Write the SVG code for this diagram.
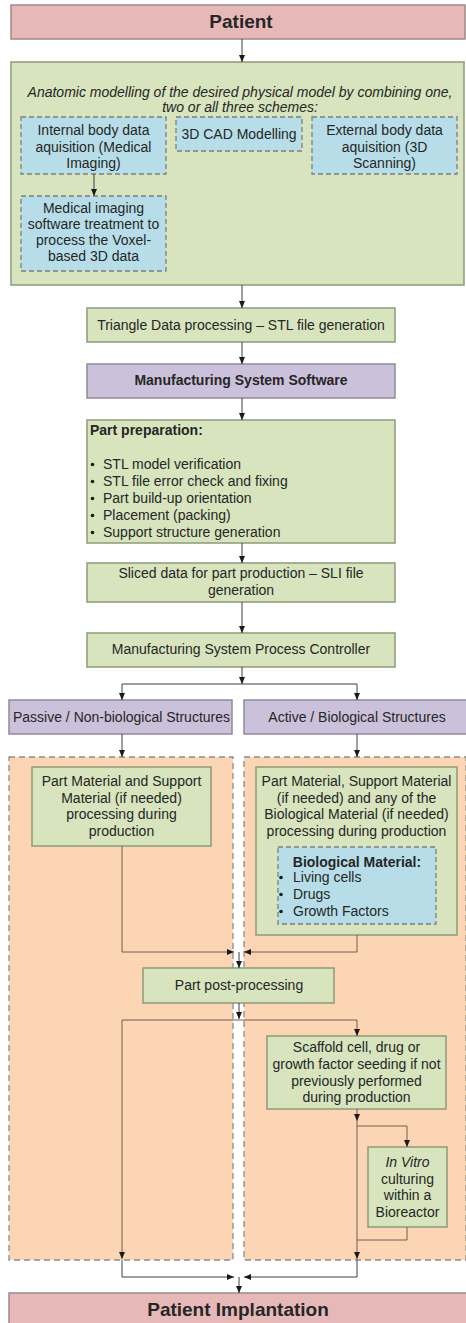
<svg xmlns="http://www.w3.org/2000/svg" width="466" height="1323" viewBox="0 0 466 1323">
<style>
.pk{fill:#E6B9B8;stroke:#9C8B8A;stroke-width:1.5}
.gr{fill:#D7E4BD;stroke:#8D9B78;stroke-width:1.5}
.pu{fill:#CCC1DA;stroke:#8F8A99;stroke-width:1.5}
.bl{fill:#B7DEE8;stroke:#7F7F7F;stroke-width:1.3;stroke-dasharray:5 3}
.or{fill:#FCD5B5;stroke:#8C8C8C;stroke-width:1.3;stroke-dasharray:6 4}
text{font-family:"Liberation Sans",Arial,sans-serif;font-size:14px;fill:#262626}
.c{text-anchor:middle}
.b{font-weight:bold}
.i{font-style:italic}
.big{font-size:19px;font-weight:bold}
.ln{fill:none;stroke:#3F3F3F;stroke-width:1}
.lb{fill:none;stroke:#6E5F56;stroke-width:1}
</style>
<defs>
<marker id="ah" viewBox="0 0 7 6" refX="7" refY="3" markerWidth="7" markerHeight="6" orient="auto" markerUnits="userSpaceOnUse">
<path d="M0,0 L7,3 L0,6 z" fill="#1a1a1a"/>
</marker>
</defs>

<g id="containers">
<rect id="passive-area" class="or" x="9" y="757" width="224" height="503"/>
<rect id="active-area" class="or" x="244" y="757" width="222" height="503"/>
</g>

<g id="patient"><rect class="pk" x="11" y="5" width="454" height="34"/><text class="c big" x="241" y="28">Patient</text></g>

<g id="modelling">
<rect class="gr" x="11" y="62" width="453" height="223"/>
<text class="c i" x="240" y="97">Anatomic modelling of the desired physical model by combining one,</text>
<text class="c i" x="240" y="112">two or all three schemes:</text>
</g>
<g id="internal"><rect class="bl" x="21" y="117" width="145" height="57"/>
<text class="c" x="93.5" y="135">Internal body data</text><text class="c" x="93.5" y="151.5">aquisition (Medical</text><text class="c" x="93.5" y="168">Imaging)</text></g>
<g id="cad"><rect class="bl" x="176" y="117" width="126" height="34"/><text class="c" x="239" y="139">3D CAD Modelling</text></g>
<g id="external"><rect class="bl" x="312" y="117" width="145" height="57"/>
<text class="c" x="384.5" y="135">External body data</text><text class="c" x="384.5" y="151.5">aquisition (3D</text><text class="c" x="384.5" y="168">Scanning)</text></g>
<g id="imaging-sw"><rect class="bl" x="21" y="196" width="145" height="75"/>
<text class="c" x="93.5" y="213">Medical imaging</text><text class="c" x="93.5" y="229">software treatment to</text><text class="c" x="93.5" y="245">process the Voxel-</text><text class="c" x="93.5" y="261">based 3D data</text></g>

<g id="triangle"><rect class="gr" x="87" y="308" width="308" height="34"/><text class="c" x="241" y="330">Triangle Data processing – STL file generation</text></g>
<g id="mss"><rect class="pu" x="87" y="364" width="308" height="34"/><text class="c b" x="241" y="385">Manufacturing System Software</text></g>
<g id="part-prep"><rect class="gr" x="87" y="420" width="308" height="123"/>
<text class="b" x="90" y="435">Part preparation:</text>
<circle cx="92.5" cy="464.5" r="1.8" fill="#1a1a1a"/><text x="103" y="469">STL model verification</text>
<circle cx="92.5" cy="481.5" r="1.8" fill="#1a1a1a"/><text x="103" y="486">STL file error check and fixing</text>
<circle cx="92.5" cy="498.5" r="1.8" fill="#1a1a1a"/><text x="103" y="503">Part build-up orientation</text>
<circle cx="92.5" cy="515.5" r="1.8" fill="#1a1a1a"/><text x="103" y="520">Placement (packing)</text>
<circle cx="92.5" cy="532.5" r="1.8" fill="#1a1a1a"/><text x="103" y="537">Support structure generation</text>
</g>
<g id="sliced"><rect class="gr" x="87" y="563" width="308" height="39"/>
<text class="c" x="241" y="578">Sliced data for part production – SLI file</text><text class="c" x="241" y="595">generation</text></g>
<g id="controller"><rect class="gr" x="87" y="633" width="308" height="34"/><text class="c" x="241" y="654">Manufacturing System Process Controller</text></g>
<g id="passive"><rect class="pu" x="9" y="700" width="223" height="34"/><text class="c" x="121.5" y="722">Passive / Non-biological Structures</text></g>
<g id="active"><rect class="pu" x="244" y="700" width="224" height="34"/><text class="c" x="357" y="722">Active / Biological Structures</text></g>

<g id="passive-material"><rect class="gr" x="32" y="767" width="179" height="79"/>
<text class="c" x="121.5" y="786">Part Material and Support</text><text class="c" x="121.5" y="802.5">Material (if needed)</text><text class="c" x="121.5" y="819">processing during</text><text class="c" x="121.5" y="835.5">production</text></g>
<g id="active-material"><rect class="gr" x="256" y="767" width="201" height="168"/>
<text class="c" x="356.5" y="786">Part Material, Support Material</text><text class="c" x="356.5" y="802.5">(if needed) and any of the</text><text class="c" x="356.5" y="819">Biological Material (if needed)</text><text class="c" x="356.5" y="835.5">processing during production</text></g>
<g id="bio-material"><rect class="bl" x="278" y="847" width="158" height="77"/>
<text class="c b" x="357" y="867">Biological Material:</text>
<circle cx="281" cy="877.5" r="1.8" fill="#1a1a1a"/><text x="293" y="882">Living cells</text>
<circle cx="281" cy="894.5" r="1.8" fill="#1a1a1a"/><text x="293" y="899">Drugs</text>
<circle cx="281" cy="911.5" r="1.8" fill="#1a1a1a"/><text x="293" y="916">Growth Factors</text>
</g>
<g id="post"><rect class="gr" x="143" y="968" width="191" height="35"/><text class="c" x="239" y="990">Part post-processing</text></g>
<g id="scaffold"><rect class="gr" x="267" y="1036" width="179" height="73"/>
<text class="c" x="356.5" y="1052">Scaffold cell, drug or</text><text class="c" x="356.5" y="1069">growth factor seeding if not</text><text class="c" x="356.5" y="1086">previously performed</text><text class="c" x="356.5" y="1102">during production</text></g>
<g id="invitro"><rect class="gr" x="368" y="1147" width="79" height="80"/>
<text class="c i" x="407.5" y="1167">In Vitro</text><text class="c" x="407.5" y="1184">culturing</text><text class="c" x="407.5" y="1200">within a</text><text class="c" x="407.5" y="1217">Bioreactor</text></g>
<g id="implantation"><rect class="pk" x="9" y="1293" width="458" height="34"/><text class="c big" x="238" y="1316">Patient Implantation</text></g>

<g id="connectors">
<path class="ln" d="M242,39 V62" marker-end="url(#ah)"/>
<path class="ln" d="M94,174 V196" marker-end="url(#ah)"/>
<path class="ln" d="M242,285 V308" marker-end="url(#ah)"/>
<path class="ln" d="M242,342 V364" marker-end="url(#ah)"/>
<path class="ln" d="M242,398 V420" marker-end="url(#ah)"/>
<path class="ln" d="M242,543 V563" marker-end="url(#ah)"/>
<path class="ln" d="M242,602 V633" marker-end="url(#ah)"/>
<path class="ln" d="M242,667 V684" marker-end="url(#ah)"/>
<path class="ln" d="M242,684 H122 V700" marker-end="url(#ah)"/>
<path class="ln" d="M242,684 H357 V700" marker-end="url(#ah)"/>
<path class="ln" d="M122,734 V757" marker-end="url(#ah)"/>
<path class="ln" d="M357,734 V757" marker-end="url(#ah)"/>
<path class="lb" d="M122,846 V952 H234" marker-end="url(#ah)"/>
<path class="lb" d="M357,935 V952 H244" marker-end="url(#ah)"/>
<path class="ln" d="M239,952 V968" marker-end="url(#ah)"/>
<path class="ln" d="M239,1003 V1019" marker-end="url(#ah)"/>
<path class="lb" d="M239,1020 H122 V1259" marker-end="url(#ah)"/>
<path class="lb" d="M239,1020 H357 V1036" marker-end="url(#ah)"/>
<path class="lb" d="M357,1109 V1121" marker-end="url(#ah)"/>
<path class="lb" d="M357,1121 V1259" marker-end="url(#ah)"/>
<path class="lb" d="M357,1126 H407 V1147" marker-end="url(#ah)"/>
<path class="lb" d="M407,1227 V1240 H357"/>
<path class="ln" d="M122,1260 V1277 H234" marker-end="url(#ah)"/>
<path class="ln" d="M357,1260 V1277 H244" marker-end="url(#ah)"/>
<path class="ln" d="M239,1277 V1293" marker-end="url(#ah)"/>
</g>
</svg>
